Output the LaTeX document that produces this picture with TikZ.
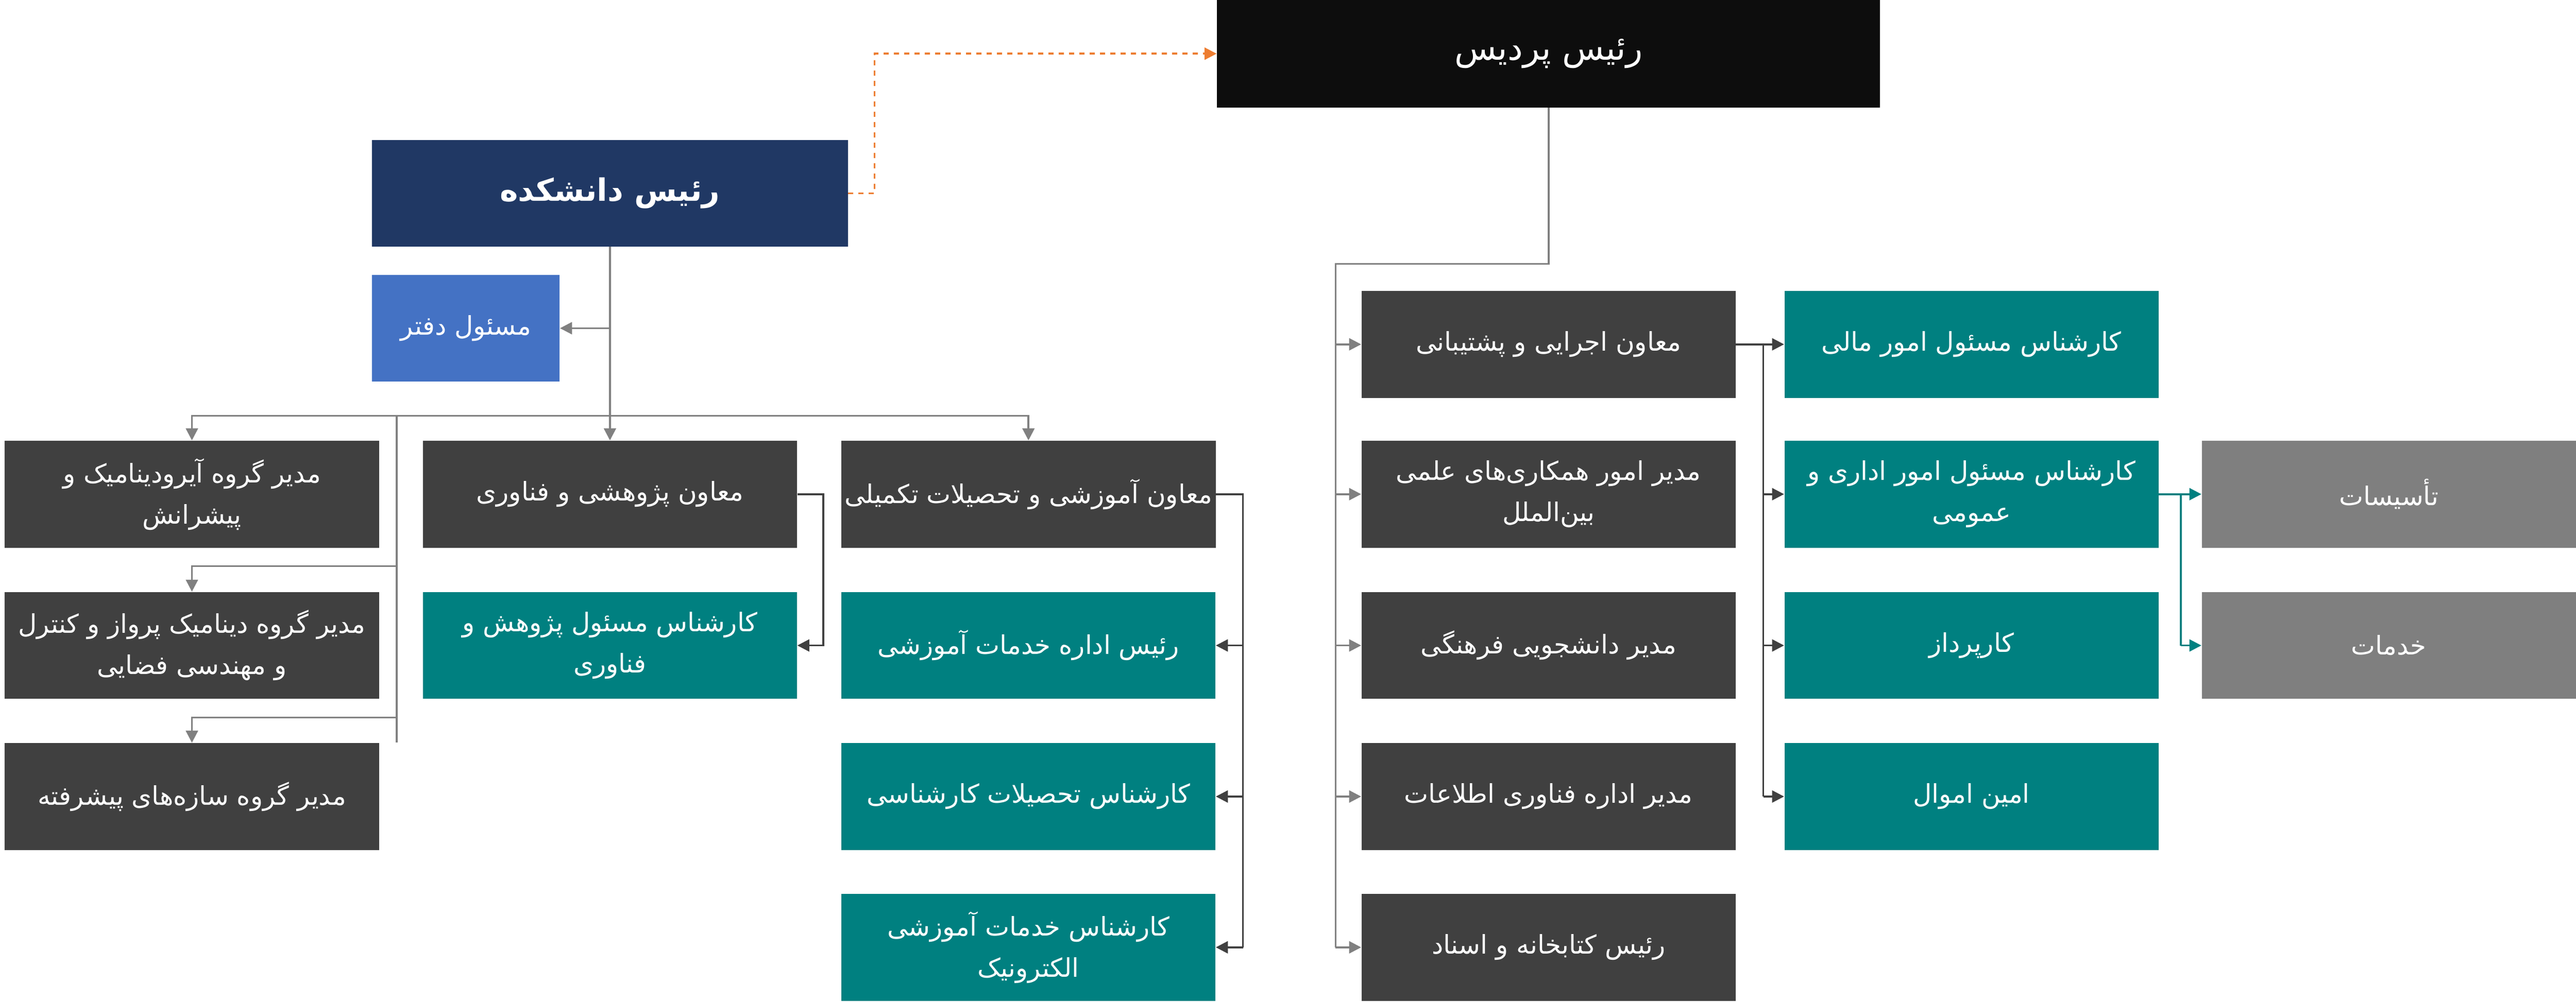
\documentclass[tikz,border=0pt]{standalone}
\usepackage{fontspec}
\newfontfamily\farsi[Script=Arabic]{DejaVu Sans}
\TeXXeTstate=1
\usetikzlibrary{arrows.meta,positioning}
\newcommand{\fa}[1]{{\farsi\beginR #1\endR}}
\definecolor{darkbox}{HTML}{404040}
\definecolor{tealbox}{HTML}{008080}
\definecolor{greybox}{HTML}{7F7F7F}
\definecolor{navybox}{HTML}{203864}
\definecolor{bluebox}{HTML}{4472C4}
\definecolor{linegrey}{HTML}{808080}
\definecolor{orangeline}{HTML}{ED7D31}
\tikzset{
  unit/.style={minimum width=7.66cm, minimum height=2.19cm, text=white, align=center,
               inner sep=2pt, font=\fontsize{15}{24}\selectfont},
  darkunit/.style={unit, fill=darkbox},
  tealunit/.style={unit, fill=tealbox},
  greyunit/.style={unit, fill=greybox},
  link/.style={draw=linegrey, line width=1.1pt, -{Triangle[length=7pt,width=7pt]}},
  darklink/.style={link, draw=darkbox},
  teallink/.style={link, draw=tealbox},
}
\begin{document}
\begin{tikzpicture}
    \useasboundingbox (0,0) rectangle (52.75,-20.53);
    \pgfmathsetmacro{\ra}{-10.125}  %row y-positions
    \pgfmathsetmacro{\rb}{-13.225}
    \pgfmathsetmacro{\rc}{-16.32}
    \pgfmathsetmacro{\rd}{-19.41}
    \pgfmathsetmacro{\re}{-7.055}

    %Top boxes
    \node[unit, fill=black!95, minimum width=13.58cm, minimum height=2.2cm,
          font=\fontsize{20}{24}\selectfont] (campus) at (31.71,-1.1) {\fa{رئیس پردیس}};
    \node[unit, fill=navybox, minimum width=9.74cm, minimum height=2.18cm,
          font=\bfseries\fontsize{18}{24}\selectfont] (dean) at (12.49,-3.96) {\fa{رئیس دانشکده}};
    \node[unit, fill=bluebox, minimum width=3.84cm] (office) at (9.54,-6.725) {\fa{مسئول دفتر}};

    %Faculty side
    \node[darkunit] (grpA) at (3.93,\ra) {\fa{مدیر گروه آیرودینامیک و}\\\fa{پیشرانش}};
    \node[darkunit] (grpB) at (3.93,\rb) {\fa{مدیر گروه دینامیک پرواز و کنترل}\\\fa{و مهندسی فضایی}};
    \node[darkunit] (grpC) at (3.93,\rc) {\fa{مدیر گروه سازه‌های پیشرفته}};
    \node[darkunit] (research) at (12.49,\ra) {\fa{معاون پژوهشی و فناوری}};
    \node[tealunit] (resexp) at (12.49,\rb) {\fa{کارشناس مسئول پژوهش و}\\\fa{فناوری}};
    \node[darkunit] (edu) at (21.06,\ra) {\fa{معاون آموزشی و تحصیلات تکمیلی}};
    \node[tealunit] (eduserv) at (21.06,\rb) {\fa{رئیس اداره خدمات آموزشی}};
    \node[tealunit] (bsc) at (21.06,\rc) {\fa{کارشناس تحصیلات کارشناسی}};
    \node[tealunit] (elearn) at (21.06,\rd) {\fa{کارشناس خدمات آموزشی}\\\fa{الکترونیک}};

    %Campus side
    \node[darkunit] (exec) at (31.71,\re) {\fa{معاون اجرایی و پشتیبانی}};
    \node[darkunit] (intl) at (31.71,\ra) {\fa{مدیر امور همکاری‌های علمی}\\\fa{بین‌الملل}};
    \node[darkunit] (student) at (31.71,\rb) {\fa{مدیر دانشجویی فرهنگی}};
    \node[darkunit] (it) at (31.71,\rc) {\fa{مدیر اداره فناوری اطلاعات}};
    \node[darkunit] (library) at (31.71,\rd) {\fa{رئیس کتابخانه و اسناد}};
    \node[tealunit] (finance) at (40.37,\re) {\fa{کارشناس مسئول امور مالی}};
    \node[tealunit] (admin) at (40.37,\ra) {\fa{کارشناس مسئول امور اداری و}\\\fa{عمومی}};
    \node[tealunit] (procure) at (40.37,\rb) {\fa{کارپرداز}};
    \node[tealunit] (assets) at (40.37,\rc) {\fa{امین اموال}};
    \node[greyunit] (facility) at (48.915,\ra) {\fa{تأسیسات}};
    \node[greyunit] (services) at (48.915,\rb) {\fa{خدمات}};

    %Dean connectors
    \draw[link, draw=orangeline, dashed] (dean.east) -- ++(0.54,0) |- (campus.west);
    \draw[link] (dean.south) -- (research.north);
    \draw[link] (dean.south |- office.east) -- (office.east);
    \coordinate (bus) at (8.12,-8.52);
    \draw[linegrey, line width=1.1pt] (bus) -- (bus |- grpC.north) ++(0,0.5) -- (bus);
    \draw[link] (bus) -| (grpA.north);
    \draw[link] (bus) -| (edu.north);
    \draw[link] (bus |- 0,-11.6) -| (grpB.north);
    \draw[link] (bus |- 0,-14.7) -| (grpC.north);

    %Deputy connectors
    \draw[darklink] (research.east) -- ++(0.53,0) |- (resexp.east);
    \draw[darkbox, line width=1.1pt] (edu.east) -- ++(0.55,0) coordinate (eb) -- (eb |- elearn);
    \foreach \n in {eduserv,bsc,elearn}
        \draw[darklink] (eb |- \n) -- (\n.east);

    %Campus connectors
    \draw[linegrey, line width=1.1pt] (campus.south) -- ++(0,-3.2) -| (27.35,\rd) coordinate (cb);
    \foreach \n in {exec,intl,student,it,library}
        \draw[link] (cb |- \n) -- (\n.west);
    \draw[darkbox, line width=1.1pt] (exec.east) -- ++(0.56,0) coordinate (xb) -- (xb |- assets);
    \foreach \n in {finance,admin,procure,assets}
        \draw[darklink] (xb |- \n) -- (\n.west);
    \draw[tealbox, line width=1.1pt] (admin.east) -- ++(0.45,0) coordinate (ab) -- (ab |- services);
    \foreach \n in {facility,services}
        \draw[teallink] (ab |- \n) -- (\n.west);
\end{tikzpicture}
\end{document}
